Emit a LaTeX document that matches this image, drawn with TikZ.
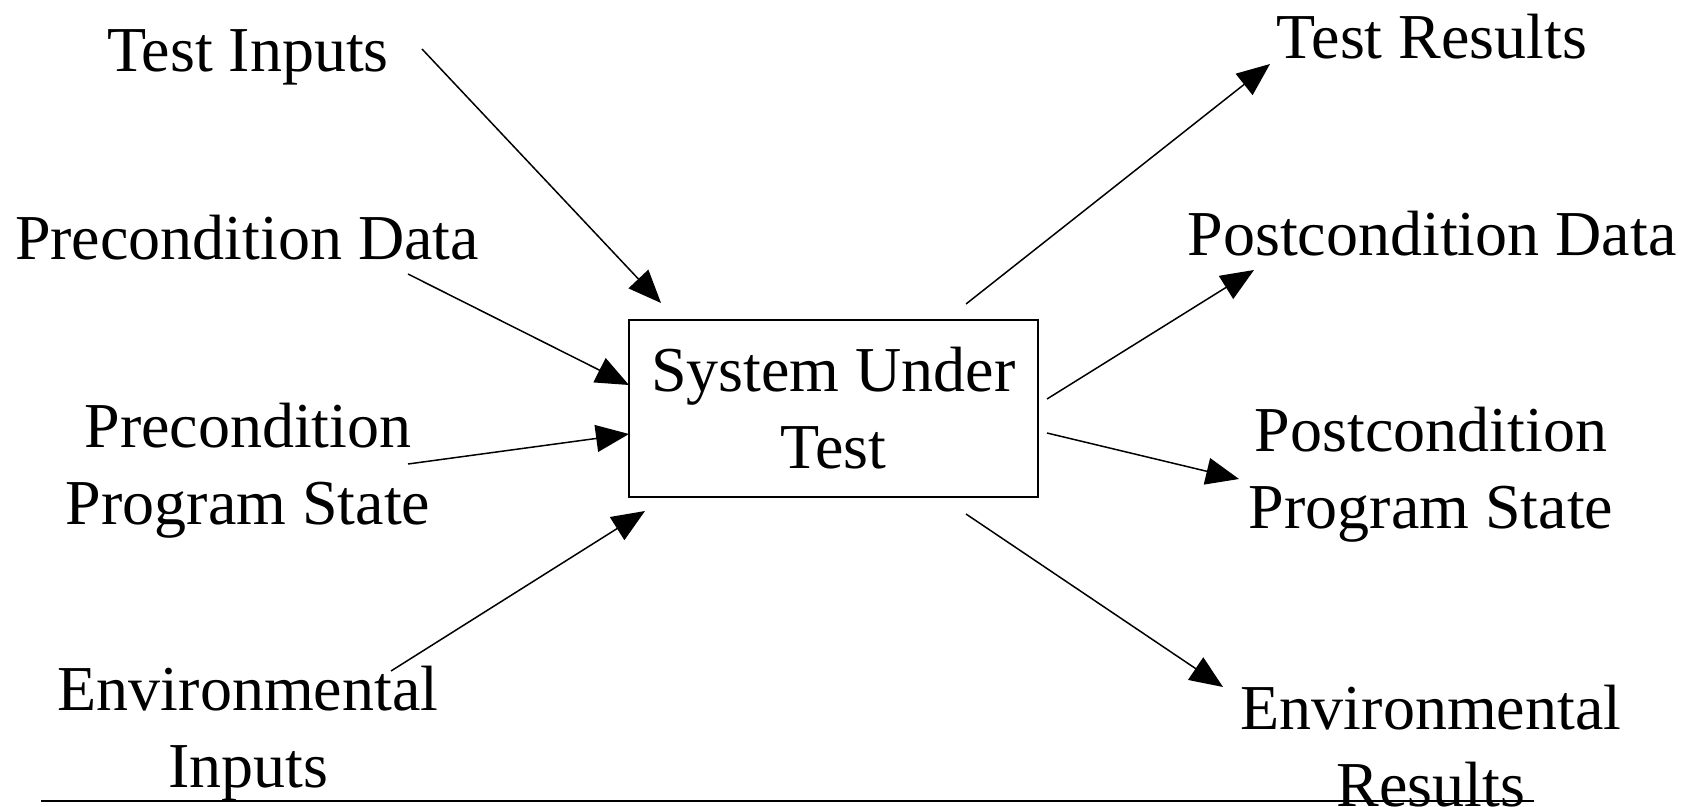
\documentclass[tikz,border=0pt]{standalone}
\usepackage{fontspec}
\setmainfont{Liberation Serif}
\usetikzlibrary{arrows.meta,positioning}
\tikzstyle{l2}=[line width=1.5]
\tikzstyle{lbl}=[inner sep=0pt, align=center, font=\fontsize{64}{77}\selectfont]
\tikzstyle{sut}=[draw=black, line width=2, minimum width=409, minimum height=177, inner sep=0pt, align=center, font=\fontsize{64}{77}\selectfont]
\tikzstyle{arr}=[l2, -{Triangle[length=33pt, width=27pt]}]

\begin{document}
\begin{tikzpicture}[x=1pt, y=-1pt]
    \useasboundingbox (0,0) rectangle (1692,806);

    % system under test
    \node[sut] at (833.5,408.5) (sut) {System Under\\Test};

    % inputs
    \node[lbl] at (248,57) (tin) {Test Inputs};
    \node[lbl] at (247,238) (pdata) {Precondition Data};
    \node[lbl] at (248,471) (pstate) {Precondition\\Program State};
    \node[lbl] at (248,734) (envin) {Environmental\\Inputs};

    % outputs
    \node[lbl] at (1432,37) (tres) {Test Results};
    \node[lbl] at (1432,234) (postdata) {Postcondition Data};
    \node[lbl] at (1431,475) (poststate) {Postcondition\\Program State};
    \node[lbl] at (1431,746) (envres) {Environmental\\Results};

    % arrow ends
    \coordinate (tin-o) at (422,49);   \coordinate (sut-i1) at (661,303);
    \coordinate (pdata-o) at (408,274); \coordinate (sut-i2) at (629,385);
    \coordinate (pstate-o) at (408,464); \coordinate (sut-i3) at (629,434);
    \coordinate (envin-o) at (391,671); \coordinate (sut-i4) at (645,511);
    \coordinate (sut-o1) at (966,304);  \coordinate (tres-i) at (1270,64);
    \coordinate (sut-o2) at (1047,399); \coordinate (postdata-i) at (1254,270);
    \coordinate (sut-o3) at (1047,433); \coordinate (poststate-i) at (1239,479);
    \coordinate (sut-o4) at (966,514);  \coordinate (envres-i) at (1223,687);

    \draw[arr] (tin-o) -- (sut-i1);
    \draw[arr] (pdata-o) -- (sut-i2);
    \draw[arr] (pstate-o) -- (sut-i3);
    \draw[arr] (envin-o) -- (sut-i4);
    \draw[arr] (sut-o1) -- (tres-i);
    \draw[arr] (sut-o2) -- (postdata-i);
    \draw[arr] (sut-o3) -- (poststate-i);
    \draw[arr] (sut-o4) -- (envres-i);

    % base line
    \draw[line width=2] (41,801) -- (1534,801);
\end{tikzpicture}
\end{document}
